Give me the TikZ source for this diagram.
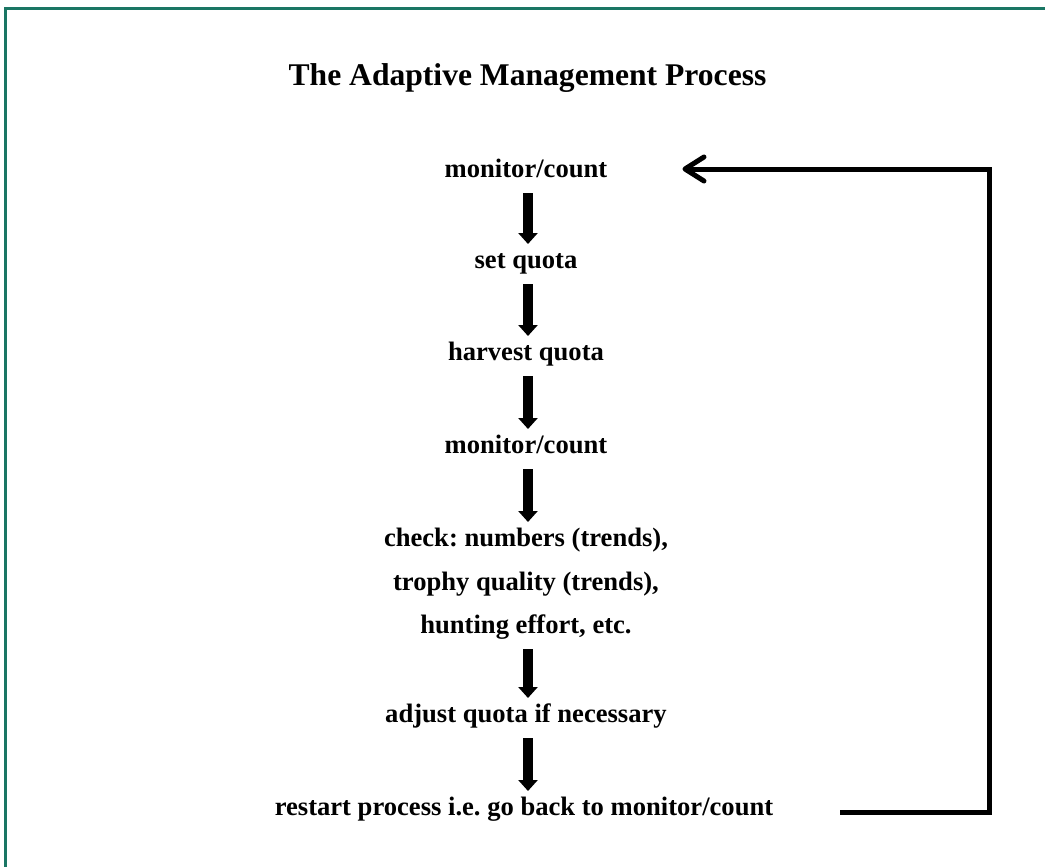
\documentclass[tikz,border=0pt]{standalone}
\usepackage{fontspec}
\setmainfont{Liberation Serif}
\frenchspacing
\usetikzlibrary{arrows.meta}
\definecolor{frameteal}{RGB}{26,118,100}
\tikzset{
  lbl/.style={anchor=base, inner sep=0pt, font=\fontsize{26.6}{32}\selectfont\bfseries},
  ttl/.style={anchor=base, inner sep=0pt, font=\fontsize{31.6}{38}\selectfont\bfseries},
  downarrow/.style={line width=10pt, -{Triangle[width=19pt,length=11pt]}},
  feedback/.style={line width=5pt, line join=miter, -{Straight Barb[length=19pt,width=24pt,round]}},
  frame/.style={draw=frameteal, line width=2.2pt}
}
\begin{document}
\begin{tikzpicture}[x=1pt,y=-1pt]
\useasboundingbox (0,0) rectangle (1045,867);
\fill[white] (0,0) rectangle (1045,867);
\draw[frame] (5.5,867) -- (5.5,8.5) -- (1045,8.5);

\node[ttl] (title) at (527.5,85) {The Adaptive Management Process};

\node[lbl] (m1) at (526,177) {monitor/count};
\node[lbl] (sq) at (526,268) {set quota};
\node[lbl] (hq) at (526,360) {harvest quota};
\node[lbl] (m2) at (526,453) {monitor/count};
\node[lbl] (c1) at (526,546) {check: numbers (trends),};
\node[lbl] (c2) at (526,590) {trophy quality (trends),};
\node[lbl] (c3) at (526,633) {hunting effort, etc.};
\node[lbl] (aq) at (526,722) {adjust quota if necessary};
\node[lbl] (rs) at (524,815) {restart process i.e. go back to monitor/count};

\draw[downarrow] ([xshift=2pt,yshift=-16pt]m1.base) -- ([xshift=2pt,yshift=24pt]sq.base);
\draw[downarrow] ([xshift=2pt,yshift=-16pt]sq.base) -- ([xshift=2pt,yshift=24pt]hq.base);
\draw[downarrow] ([xshift=2pt,yshift=-16pt]hq.base) -- ([xshift=2pt,yshift=24pt]m2.base);
\draw[downarrow] ([xshift=2pt,yshift=-16pt]m2.base) -- ([xshift=2pt,yshift=24pt]c1.base);
\draw[downarrow] ([xshift=2pt,yshift=-16pt]c3.base) -- ([xshift=2pt,yshift=24pt]aq.base);
\draw[downarrow] ([xshift=2pt,yshift=-16pt]aq.base) -- ([xshift=4pt,yshift=24pt]rs.base);

\coordinate (corner) at (989,169);
\draw[feedback] ([xshift=67pt,yshift=3pt]rs.base east) -| (corner) -- ([xshift=75pt,yshift=8pt]m1.base east);
\end{tikzpicture}
\end{document}
